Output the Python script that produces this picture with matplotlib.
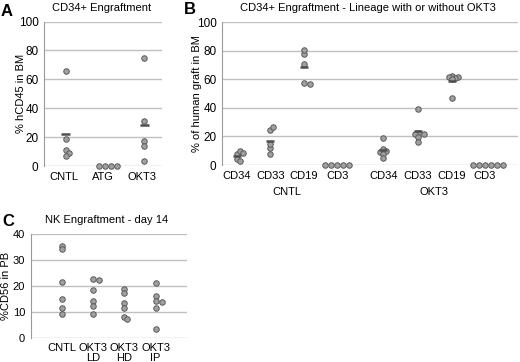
import numpy as np
import matplotlib.pyplot as plt

plt.rcParams['font.family'] = ['Liberation Sans', 'DejaVu Sans']
plt.rcParams['font.size'] = 8

# ------------------------------------------------------------------
# data
a_cats = ['CNTL', 'ATG', 'OKT3']
a_vals = [
    [66.0, 18.8, 11.3, 9.2, 6.7],
    [0.0, 0.0, 0.0, 0.0],
    [75.0, 30.8, 17.0, 14.0, 3.7],
]

b_cats = ['CD34', 'CD33', 'CD19', 'CD3', 'CD34', 'CD33', 'CD19', 'CD3']
b_groups = ['CNTL', 'OKT3']
b_vals = [
    [7.5, 4.2, 9.8, 2.8, 8.2],
    [24.5, 26.8, 11.7, 14.5, 7.5],
    [77.5, 80.5, 71.0, 57.2, 56.5],
    [0.0, 0.0, 0.0, 0.0, 0.0],
    [18.7, 11.0, 10.0, 9.0, 8.0, 5.2],
    [39.2, 22.5, 22.0, 21.5, 19.8, 16.3],
    [62.5, 62.0, 61.5, 61.0, 60.0, 46.7],
    [0.0, 0.0, 0.0, 0.0, 0.0, 0.0],
]

c_cats = ['CNTL', 'OKT3\nLD', 'OKT3\nHD', 'OKT3\nIP']
c_vals = [
    [35.5, 34.2, 21.4, 14.9, 11.3, 9.0],
    [22.5, 22.2, 18.3, 14.3, 12.3, 9.0],
    [18.7, 17.1, 13.3, 11.5, 7.9, 7.2],
    [21.1, 16.0, 14.2, 13.8, 11.6, 3.5],
]

# ------------------------------------------------------------------
W, H = 520.0, 362.0
FACE = '#a0a0a0'
EDGE = '#5a5a5a'
GRID = '#c0c0c0'
MS = 5.5  # marker diameter in px


def px_axes(l, r, t, b):
    return [l / W, 1 - b / H, (r - l) / W, (b - t) / H]


def fig_text(x, y, s, **kw):
    fig.text(x / W, 1 - y / H, s, **kw)


def style(ax, ysize=8.5):
    for s in ['top', 'right', 'bottom']:
        ax.spines[s].set_visible(False)
    ax.spines['left'].set_color('#9a9a9a')
    ax.yaxis.grid(True, color=GRID, lw=1.0)
    ax.set_axisbelow(True)
    ax.tick_params(axis='x', length=0, pad=4)
    ax.tick_params(axis='y', length=0, pad=4, labelsize=ysize)


def swarm(ax, x0, vals, step=0.55, gap=0.6):
    # push points sideways when they would sit on top of each other
    fig.canvas.draw()
    tr = ax.transData
    placed = []
    xs = []
    for v in vals:
        px, py = tr.transform((x0, v))
        k = 0
        while True:
            off = ((k + 1) // 2) * (1 if k % 2 else -1) * MS * step
            if all((px + off - qx) ** 2 + (py - qy) ** 2 >= (MS * gap) ** 2 for qx, qy in placed):
                break
            k += 1
        placed.append((px + off, py))
        xs.append(tr.inverted().transform((px + off, py))[0])
    return xs


def dots(ax, x0, vals, mean=True):
    xs = swarm(ax, x0, vals)
    ax.plot(xs, vals, 'o', ms=MS * 0.72, mfc=FACE, mec=EDGE, mew=0.7,
            clip_on=False, zorder=3)
    if mean:
        m = np.mean(vals)
        if m > 0:
            ax.plot([x0 - 0.12, x0 + 0.12], [m, m], color='#4f4f4f', lw=1.8,
                    solid_capstyle='butt', zorder=4)


fig = plt.figure(figsize=(5.2, 3.62), dpi=100)

# -------------------------------------------------------------
# A
ax_a = fig.add_axes(px_axes(44, 162, 21.5, 166))
style(ax_a)
ax_a.set_xlim(-0.5, 2.5)
ax_a.set_ylim(0, 100)
ax_a.set_yticks(range(0, 101, 20))
ax_a.set_xticks(range(len(a_cats)))
ax_a.set_xticklabels(a_cats)
ax_a.set_ylabel('% hCD45 in BM')
ax_a.yaxis.set_label_coords(-0.155, 0.5)
for i, v in enumerate(a_vals):
    dots(ax_a, i + 0.05, v)

# -------------------------------------------------------------
# B
b_pos = [1, 2, 3, 4, 5.38, 6.4, 7.42, 8.41]
ax_b = fig.add_axes(px_axes(222, 518, 22.3, 165))
style(ax_b)
ax_b.set_xlim(0.56, 9.4)
ax_b.set_ylim(0, 100)
ax_b.set_yticks(range(0, 101, 20))
ax_b.set_xticks(b_pos)
ax_b.set_xticklabels(b_cats)
ax_b.set_ylabel('% of human graft in BM')
ax_b.yaxis.set_label_coords(-0.066, 0.5)
for p, v in zip(b_pos, b_vals):
    dots(ax_b, p, v)
for g, p in zip(b_groups, [np.mean(b_pos[:4]), np.mean(b_pos[4:])]):
    ax_b.annotate(g, (p, 0), xycoords=('data', 'axes fraction'),
                  xytext=(0, -19.5), textcoords='offset points',
                  ha='center', va='center')

# -------------------------------------------------------------
# C
ax_c = fig.add_axes(px_axes(30.7, 186.7, 234, 337.7))
style(ax_c, ysize=8)
ax_c.set_xlim(0, 5)
ax_c.set_ylim(0, 40)
ax_c.set_yticks(range(0, 41, 10))
ax_c.set_xticks(range(1, len(c_cats) + 1))
ax_c.set_xticklabels(c_cats, linespacing=0.95, va='top')
ax_c.set_ylabel('%CD56 in PB')
ax_c.yaxis.set_label_coords(-0.128, 0.5)
for i, v in enumerate(c_vals):
    dots(ax_c, i + 1, v, mean=False)

# -------------------------------------------------------------
# titles and panel letters
fig_text(102, 8, 'CD34+ Engraftment', ha='center', va='center')
fig_text(368, 8, 'CD34+ Engraftment - Lineage with or without OKT3', ha='center', va='center')
fig_text(107, 220, 'NK Engraftment - day 14', ha='center', va='center')
fig_text(1, 11, 'A', fontsize=12, fontweight='bold', ha='left', va='center')
fig_text(184, 9, 'B', fontsize=12, fontweight='bold', ha='left', va='center')
fig_text(2, 222, 'C', fontsize=12, fontweight='bold', ha='left', va='center')

fig.savefig('out.png', dpi=100)
